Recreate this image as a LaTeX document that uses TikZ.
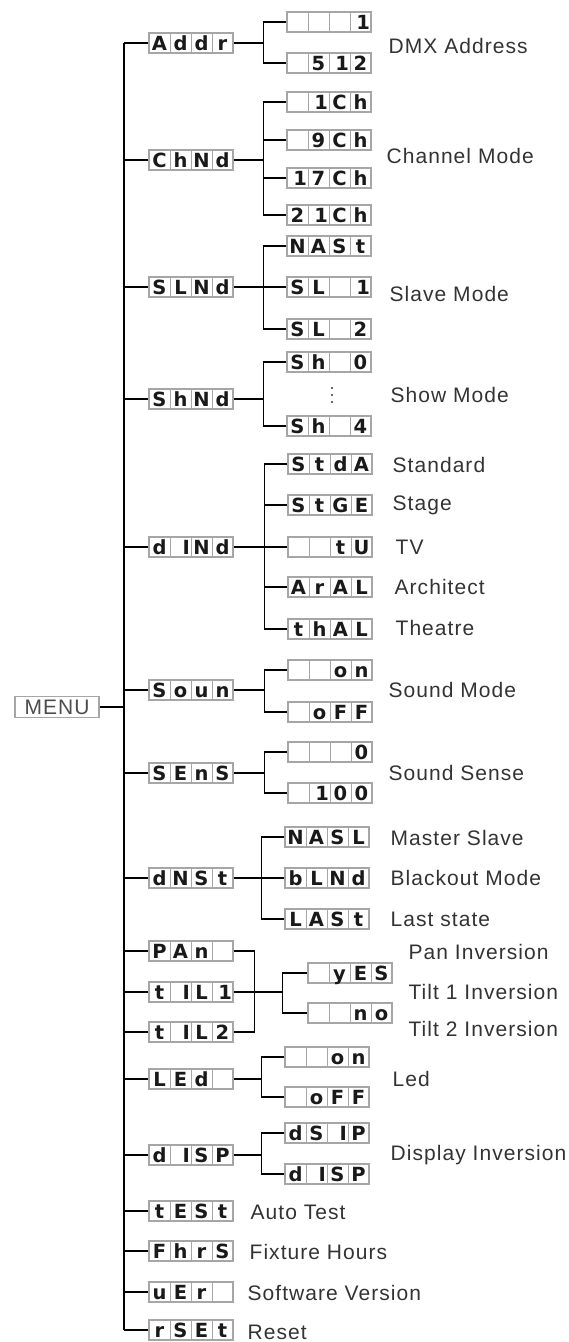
\documentclass[tikz,border=0pt]{standalone}
\usepackage{fontspec}
\setmainfont{Liberation Sans}
\newfontfamily\labfont{Liberation Sans}[LetterSpace=5]
\newfontfamily\segfont{DejaVu Sans}
\usetikzlibrary{calc}
\newcommand\dcell[1]{\makebox[21pt]{#1}}
\newcommand\dshow[4]{\dcell{#1}\dcell{#2}\dcell{#3}\dcell{#4}}
\newcommand\one{\hfill1\hspace{1pt}}
\newcommand\eye{\hfill I\hspace{1pt}}
\begin{document}
\begin{tikzpicture}[x=1pt,y=-1pt,line width=1.3pt,
  disp/.style={draw=gray!70,line width=1.2pt,fill=white,inner sep=0pt,
    minimum width=84pt,minimum height=20pt,text height=14.5pt,text depth=0pt,
    text=black!90,font=\segfont\bfseries\fontsize{19.5}{19.5}\selectfont,
    path picture={\foreach \k in {1,2,3}
      \draw[gray!70,line width=0.8pt]
        ($(path picture bounding box.north west)!\k/4!(path picture bounding box.north east)$) --
        ($(path picture bounding box.south west)!\k/4!(path picture bounding box.south east)$);}},
  lab/.style={anchor=west,inner sep=0pt,text=black!80,font=\labfont\fontsize{21}{21}\selectfont}]
 \useasboundingbox (0,0) rectangle (568,1342);
 \coordinate (trunk) at (124,0);
 \node[draw=gray!70,line width=1.2pt,inner sep=0pt,minimum width=84pt,minimum height=21pt,
   text=black!70,font=\labfont\fontsize{21}{21}\selectfont] (menu) at (57,707) {MENU};

 \node[disp] (addr) at (191,43)   {\dshow{A}{d}{d}{r}};
 \node[disp] (chnd) at (191,160)  {\dshow{C}{h}{N}{d}};
 \node[disp] (slnd) at (191,287)  {\dshow{S}{L}{N}{d}};
 \node[disp] (shnd) at (191,399)  {\dshow{S}{h}{N}{d}};
 \node[disp] (dind) at (191,547)  {\dshow{d}{\eye}{N}{d}};
 \node[disp] (soun) at (191,690)  {\dshow{S}{o}{u}{n}};
 \node[disp] (sens) at (191,773)  {\dshow{S}{E}{n}{S}};
 \node[disp] (dmst) at (191,878)  {\dshow{d}{N}{S}{t}};
 \node[disp] (pan)  at (191,951)  {\dshow{P}{A}{n}{}};
 \node[disp] (tila) at (191,992)  {\dshow{t}{\eye}{L}{\one}};
 \node[disp] (tilb) at (191,1032) {\dshow{t}{\eye}{L}{2}};
 \node[disp] (led)  at (191,1079) {\dshow{L}{E}{d}{}};
 \node[disp] (disp) at (191,1155) {\dshow{d}{\eye}{S}{P}};
 \node[disp] (test) at (191,1211) {\dshow{t}{E}{S}{t}};
 \node[disp] (fhrs) at (191,1251) {\dshow{F}{h}{r}{S}};
 \node[disp] (ver)  at (191,1292) {\dshow{u}{E}{r}{}};
 \node[disp] (rset) at (191,1330) {\dshow{r}{S}{E}{t}};

 \node[disp] (a1) at (329,22)  {\dshow{}{}{}{\one}};
 \node[disp] (a2) at (329,63)  {\dshow{}{5}{\one}{2}};
 \node[disp] (c1) at (329,102) {\dshow{}{\one}{C}{h}};
 \node[disp] (c2) at (329,140) {\dshow{}{9}{C}{h}};
 \node[disp] (c3) at (329,178) {\dshow{\one}{7}{C}{h}};
 \node[disp] (c4) at (329,215) {\dshow{2}{\one}{C}{h}};
 \node[disp] (s1) at (329,246) {\dshow{N}{A}{S}{t}};
 \node[disp] (s2) at (329,287) {\dshow{S}{L}{}{\one}};
 \node[disp] (s3) at (329,329) {\dshow{S}{L}{}{2}};
 \node[disp] (h1) at (329,362) {\dshow{S}{h}{}{0}};
 \node[disp] (h2) at (329,426) {\dshow{S}{h}{}{4}};
 \node[disp] (d1) at (330,464) {\dshow{S}{t}{d}{A}};
 \node[disp] (d2) at (330,505) {\dshow{S}{t}{G}{E}};
 \node[disp] (d3) at (330,547) {\dshow{}{}{t}{U}};
 \node[disp] (d4) at (330,587) {\dshow{A}{r}{A}{L}};
 \node[disp] (d5) at (330,629) {\dshow{t}{h}{A}{L}};
 \node[disp] (o1) at (330,670) {\dshow{}{}{o}{n}};
 \node[disp] (o2) at (330,712) {\dshow{}{o}{F}{F}};
 \node[disp] (e1) at (330,752) {\dshow{}{}{}{0}};
 \node[disp] (e2) at (330,793) {\dshow{}{\one}{0}{0}};
 \node[disp] (m1) at (327,837) {\dshow{N}{A}{S}{L}};
 \node[disp] (m2) at (327,878) {\dshow{b}{L}{N}{d}};
 \node[disp] (m3) at (327,919) {\dshow{L}{A}{S}{t}};
 \node[disp] (y1) at (350,973) {\dshow{}{y}{E}{S}};
 \node[disp] (y2) at (350,1013) {\dshow{}{}{n}{o}};
 \node[disp] (l1) at (327,1057) {\dshow{}{}{o}{n}};
 \node[disp] (l2) at (327,1097) {\dshow{}{o}{F}{F}};
 \node[disp] (p1) at (327,1133) {\dshow{d}{S}{\eye}{P}};
 \node[disp] (p2) at (327,1174) {\dshow{d}{\eye}{S}{P}};
 \foreach \d in {388,395,402}
   \fill[black!80] (332,\d) circle (1.2pt);

 \node[lab] (tdmx)  at (388,46)   {DMX Address};
 \node[lab] (tch)   at (386,156)  {Channel Mode};
 \node[lab] (tsl)   at (389,294)  {Slave Mode};
 \node[lab] (tsh)   at (390,395)  {Show Mode};
 \node[lab] (tstd)  at (392,465)  {Standard};
 \node[lab] (tstg)  at (392,505)  {Stage};
 \node[lab] (ttv)   at (395,547)  {TV};
 \node[lab] (tarc)  at (394,587)  {Architect};
 \node[lab] (tthe)  at (395,628)  {Theatre};
 \node[lab] (tsnd)  at (388,690)  {Sound Mode};
 \node[lab] (tsns)  at (388,773)  {Sound Sense};
 \node[lab] (tms)   at (390,838)  {Master Slave};
 \node[lab] (tbo)   at (390,878)  {Blackout Mode};
 \node[lab] (tls)   at (390,919)  {Last state};
 \node[lab] (tpan)  at (408,952)  {Pan Inversion};
 \node[lab] (ttia)  at (408,992)  {Tilt 1 Inversion};
 \node[lab] (ttib)  at (408,1029) {Tilt 2 Inversion};
 \node[lab] (tled)  at (392,1079) {Led};
 \node[lab] (tdisp) at (390,1155) {Display Inversion};
 \node[lab] (ttest) at (250,1212) {Auto Test};
 \node[lab] (tfh)   at (249,1252) {Fixture Hours};
 \node[lab] (tver)  at (247,1293) {Software Version};
 \node[lab] (trst)  at (247,1332) {Reset};

 \draw (menu.east) -- (menu.east -| trunk);
 \draw (trunk |- addr.west) -- (trunk |- rset.west);
 \foreach \n in {addr,chnd,slnd,shnd,dind,soun,sens,dmst,pan,tila,tilb,led,disp,test,fhrs,ver,rset}
   \draw (\n.west) -- (\n.west -| trunk);
 \foreach \p/\c in {addr/a1,addr/a2,chnd/c1,chnd/c2,chnd/c3,chnd/c4,slnd/s1,slnd/s2,slnd/s3,
   shnd/h1,shnd/h2,dind/d1,dind/d2,dind/d3,dind/d4,dind/d5,soun/o1,soun/o2,sens/e1,sens/e2,
   dmst/m1,dmst/m2,dmst/m3,led/l1,led/l2,disp/p1,disp/p2}
   \draw (\c.west) -- ++(-23,0) |- (\p.east);
 \draw (pan.east) -- ++(21,0) |- (tilb.east);
 \draw (y1.west) -- ++(-25,0) |- (tila.east);
 \draw (y2.west) -- ++(-25,0) |- (tila.east);
\end{tikzpicture}
\end{document}
